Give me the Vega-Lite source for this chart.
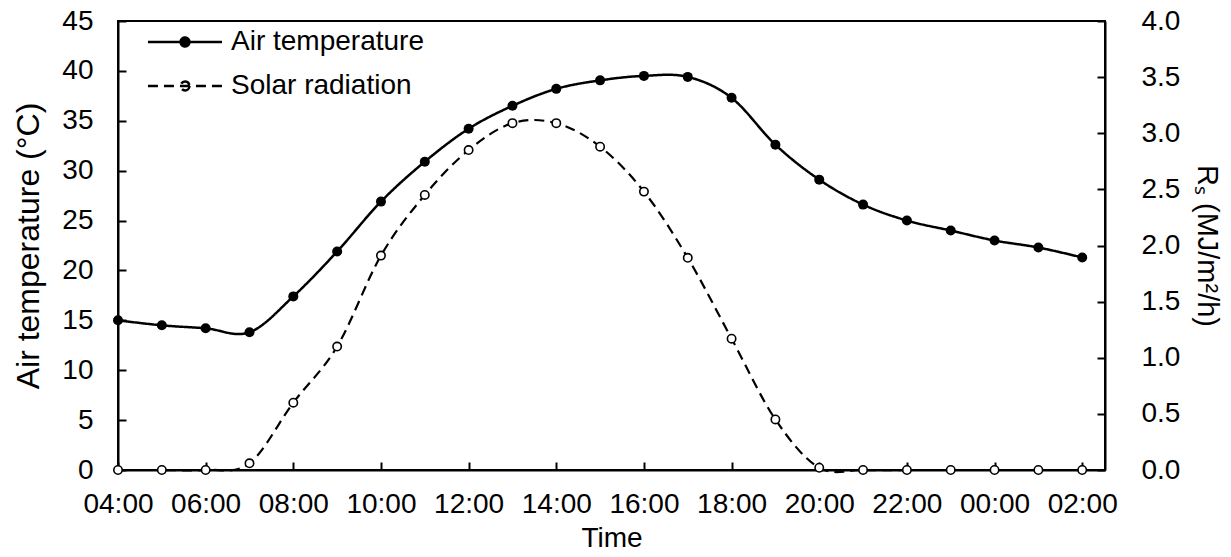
{
  "$schema": "https://vega.github.io/schema/vega-lite/v6.json",
  "width": 987,
  "height": 449,
  "autosize": {"type": "none"},
  "padding": {"left": 118, "top": 21, "right": 126, "bottom": 87},
  "background": "white",
  "config": {
    "font": "Liberation Sans",
    "view": {"stroke": "black", "strokeWidth": 2},
    "axis": {
      "grid": false,
      "domainColor": "black",
      "domainWidth": 2,
      "tickColor": "black",
      "tickWidth": 2,
      "tickSize": -8,
      "labelColor": "black",
      "titleColor": "black",
      "labelFont": "Liberation Sans",
      "titleFont": "Liberation Sans",
      "labelFontSize": 28,
      "titleFontSize": 32,
      "titleFontWeight": "normal",
      "labelOverlap": false,
      "labelFlush": false
    }
  },
  "data": {
    "values": [
      {"hour": 0, "time": "04:00", "temp": 15.0, "rs": 0.0},
      {"hour": 1, "time": "05:00", "temp": 14.5, "rs": 0.0},
      {"hour": 2, "time": "06:00", "temp": 14.2, "rs": 0.0},
      {"hour": 3, "time": "07:00", "temp": 13.8, "rs": 0.06},
      {"hour": 4, "time": "08:00", "temp": 17.4, "rs": 0.6},
      {"hour": 5, "time": "09:00", "temp": 21.9, "rs": 1.1},
      {"hour": 6, "time": "10:00", "temp": 26.9, "rs": 1.91},
      {"hour": 7, "time": "11:00", "temp": 30.9, "rs": 2.45},
      {"hour": 8, "time": "12:00", "temp": 34.2, "rs": 2.85},
      {"hour": 9, "time": "13:00", "temp": 36.5, "rs": 3.09},
      {"hour": 10, "time": "14:00", "temp": 38.2, "rs": 3.09},
      {"hour": 11, "time": "15:00", "temp": 39.05, "rs": 2.88},
      {"hour": 12, "time": "16:00", "temp": 39.5, "rs": 2.48},
      {"hour": 13, "time": "17:00", "temp": 39.4, "rs": 1.89},
      {"hour": 14, "time": "18:00", "temp": 37.3, "rs": 1.17},
      {"hour": 15, "time": "19:00", "temp": 32.6, "rs": 0.45},
      {"hour": 16, "time": "20:00", "temp": 29.1, "rs": 0.02},
      {"hour": 17, "time": "21:00", "temp": 26.6, "rs": 0.0},
      {"hour": 18, "time": "22:00", "temp": 25.0, "rs": 0.0},
      {"hour": 19, "time": "23:00", "temp": 24.0, "rs": 0.0},
      {"hour": 20, "time": "00:00", "temp": 23.0, "rs": 0.0},
      {"hour": 21, "time": "01:00", "temp": 22.3, "rs": 0.0},
      {"hour": 22, "time": "02:00", "temp": 21.3, "rs": 0.0}
    ]
  },
  "encoding": {
    "x": {
      "field": "hour",
      "type": "quantitative",
      "title": "Time",
      "scale": {"domain": [0, 22.52], "nice": false, "zero": false},
      "axis": {
        "values": [0, 2, 4, 6, 8, 10, 12, 14, 16, 18, 20, 22],
        "labelExpr": "format((datum.value + 4) % 24, '02d') + ':00'",
        "labelPadding": 28,
        "titlePadding": 6,
        "titleFontSize": 28
      }
    }
  },
  "layer": [
    {
      "encoding": {
        "y": {
          "field": "temp",
          "type": "quantitative",
          "scale": {"domain": [0, 45], "nice": false},
          "axis": {
            "orient": "left",
            "title": "Air temperature (°C)",
            "values": [0, 5, 10, 15, 20, 25, 30, 35, 40, 45],
            "labelPadding": 33,
            "titlePadding": 16
          }
        }
      },
      "layer": [
        {
          "mark": {"type": "line", "interpolate": "cardinal", "strokeWidth": 2.5, "color": "black"},
          "encoding": {
            "strokeDash": {
              "datum": "Air temperature",
              "type": "nominal",
              "scale": {
                "domain": ["Air temperature", "Solar radiation"],
                "range": [[1, 0], [10, 6]]
              },
              "legend": {
                "title": null,
                "orient": "none",
                "legendX": 53,
                "legendY": 7,
                "padding": 0,
                "symbolType": "M-3,0H3M0.36,0A0.36,0.36 0 1,1 -0.36,0A0.36,0.36 0 1,1 0.36,0Z",
                "symbolSize": 610,
                "symbolStrokeColor": "black",
                "symbolStrokeWidth": 2.5,
                "labelFont": "Liberation Sans",
                "labelFontSize": 28,
                "labelColor": "black",
                "labelLimit": 500,
                "labelOffset": 32,
                "rowPadding": 16,
                "encode": {
                  "symbols": {
                    "update": {
                      "fill": {"signal": "datum.value === 'Air temperature' ? 'black' : 'white'"},
                      "stroke": {"value": "black"},
                      "opacity": {"value": 1}
                    }
                  }
                }
              }
            }
          }
        },
        {
          "mark": {"type": "point", "filled": true, "color": "black", "size": 100, "opacity": 1},
          "encoding": {}
        }
      ]
    },
    {
      "encoding": {
        "y": {
          "field": "rs",
          "type": "quantitative",
          "scale": {"domain": [0, 4], "nice": false},
          "axis": {
            "orient": "right",
            "title": "Rₛ (MJ/m²/h)",
            "values": [0, 0.5, 1, 1.5, 2, 2.5, 3, 3.5, 4],
            "format": ".1f",
            "labelPadding": 44,
            "titlePadding": 12,
            "titleFontSize": 29
          }
        }
      },
      "layer": [
        {
          "mark": {"type": "line", "interpolate": "cardinal", "strokeWidth": 2.2, "color": "black"},
          "encoding": {
            "strokeDash": {"datum": "Solar radiation", "type": "nominal"}
          }
        },
        {
          "mark": {"type": "point", "filled": true, "fill": "white", "stroke": "black", "strokeWidth": 1.6, "size": 70, "opacity": 1},
          "encoding": {}
        }
      ]
    }
  ],
  "resolve": {"scale": {"y": "independent"}}
}
